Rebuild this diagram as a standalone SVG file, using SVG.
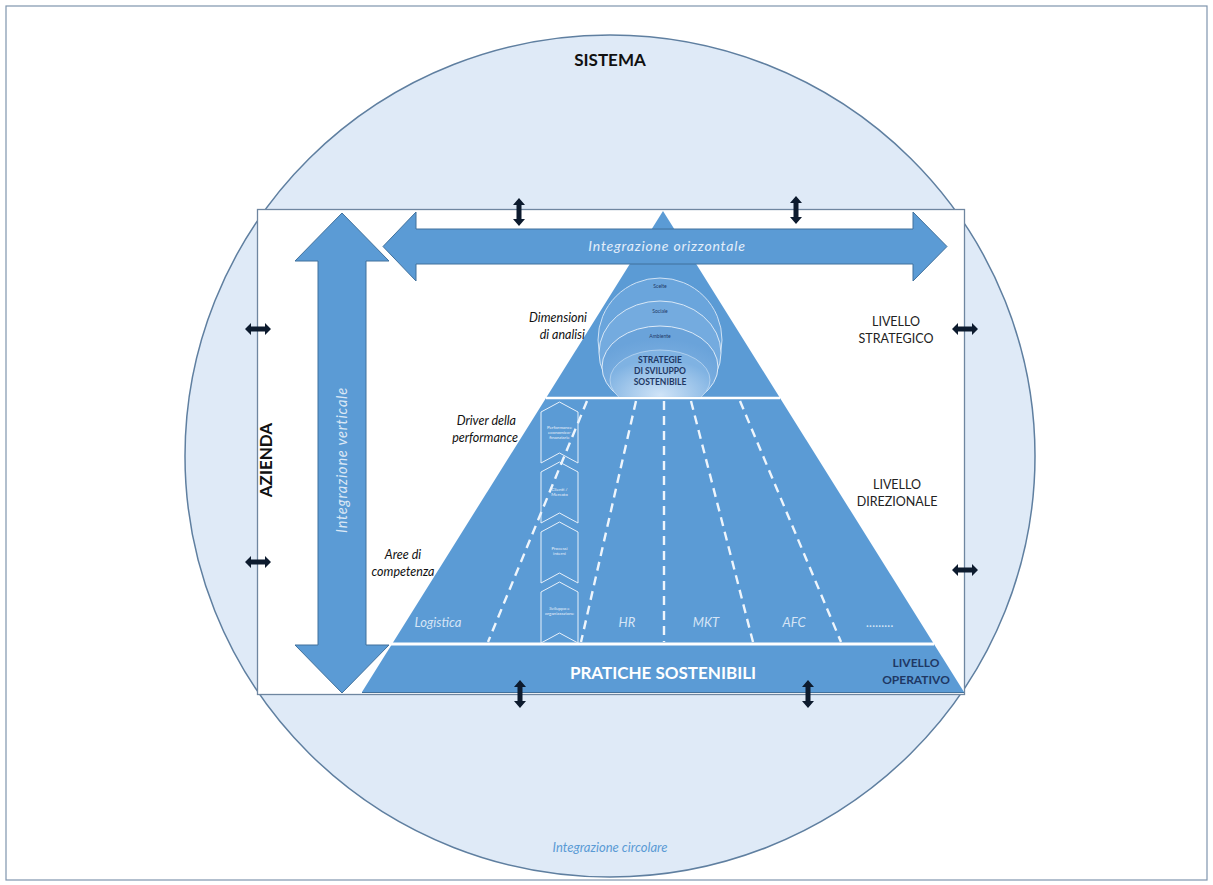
<svg xmlns="http://www.w3.org/2000/svg" width="1213" height="885" viewBox="0 0 1213 885">
<style>
.t{font-family:Lato,"Open Sans","Liberation Sans",sans-serif}
.b{font-weight:bold}
.i{font-style:italic}
.lab{font-size:12.5px;fill:#111}
.lev{font-size:12.5px;fill:#222;text-anchor:middle}
.area{font-size:13px;fill:#d6e5f6;font-style:italic;text-anchor:middle}
.chev{fill:none;stroke:#e8f1fb;stroke-width:1}
.ct{font-size:4.5px;fill:#e8f1fb;text-anchor:middle}
.dash{stroke:#eef5fc;stroke-width:2.4;stroke-dasharray:9,6;fill:none}
.big{fill:#5b9bd5;stroke:#41719c;stroke-width:1}
.sm{fill:#0d1b2e}
</style>
<defs>
<radialGradient id="g1" cx="50%" cy="85%" r="70%">
<stop offset="0" stop-color="#b9d6f2"/>
<stop offset="0.6" stop-color="#7aaee0"/>
<stop offset="1" stop-color="#6aa3da"/>
</radialGradient>
<radialGradient id="g2" cx="50%" cy="75%" r="60%">
<stop offset="0" stop-color="#cfe3f7"/>
<stop offset="1" stop-color="#7fb2e2"/>
</radialGradient>
<clipPath id="clipTop"><rect x="500" y="200" width="330" height="197"/></clipPath>
<g id="hArr"><path d="M-13,0 L-7,-6 L-7,-2.5 L7,-2.5 L7,-6 L13,0 L7,6 L7,2.5 L-7,2.5 L-7,6 Z"/></g>
<g id="vArr"><path d="M0,-14 L6,-7 L2.5,-7 L2.5,7 L6,7 L0,14 L-6,7 L-2.5,7 L-2.5,-7 L-6,-7 Z"/></g>
</defs>
<rect x="0" y="0" width="1213" height="885" fill="#ffffff"/>
<g id="frame"><rect x="6" y="6" width="1201" height="874" fill="#ffffff" stroke="#7f95ad" stroke-width="1.2"/></g>
<g id="sistema">
<ellipse cx="610" cy="456" rx="425" ry="421" fill="#dfeaf7" stroke="#5f7fa0" stroke-width="1.5"/>
<text x="610" y="66" class="t b" font-size="17" fill="#111" text-anchor="middle">SISTEMA</text>
<text x="610" y="852" class="t i" font-size="13" fill="#5b9bd5" text-anchor="middle">Integrazione circolare</text>
</g>
<g id="azienda">
<rect x="257.5" y="209.5" width="707" height="485" fill="#ffffff" stroke="#6f86a0" stroke-width="1.3"/>
<text transform="translate(272,460) rotate(-90)" class="t b" font-size="17" fill="#111" text-anchor="middle">AZIENDA</text>
</g>
<g id="piramide">
<polygon points="663,211 362,692 964,692" fill="#5b9bd5"/>
<line x1="362" y1="692.5" x2="964" y2="692.5" stroke="#41719c" stroke-width="1.2"/>
<line x1="546" y1="398" x2="780" y2="398" stroke="#ffffff" stroke-width="2.5"/>
<line x1="366" y1="644" x2="934" y2="644" stroke="#ffffff" stroke-width="3"/>
</g>
<g id="dimensioni">
<g clip-path="url(#clipTop)">
<ellipse cx="660" cy="340" rx="62" ry="62" fill="#6aa5dc" stroke="#cfe2f5" stroke-width="1"/>
<ellipse cx="660" cy="353" rx="61" ry="52" fill="#74abdf" stroke="#d8e8f7" stroke-width="1"/>
<ellipse cx="660" cy="367" rx="58" ry="41" fill="url(#g1)" stroke="#dceaf8" stroke-width="1"/>
<ellipse cx="660" cy="380" rx="50" ry="30" fill="url(#g2)" stroke="#e6f0fa" stroke-width="0.8" stroke-opacity="0.6"/>
</g>
<text x="660" y="288" class="t" font-size="5" fill="#1f3864" text-anchor="middle">Scelte</text>
<text x="660" y="313" class="t" font-size="5" fill="#1f3864" text-anchor="middle">Sociale</text>
<text x="660" y="338" class="t" font-size="5" fill="#1f3864" text-anchor="middle">Ambiente</text>
<text x="660" y="363" class="t b" font-size="8.5" fill="#1f3864" text-anchor="middle">STRATEGIE</text>
<text x="660" y="374" class="t b" font-size="8.5" fill="#1f3864" text-anchor="middle">DI SVILUPPO</text>
<text x="660" y="385" class="t b" font-size="8.5" fill="#1f3864" text-anchor="middle">SOSTENIBILE</text>
</g>
<g id="aree">
<line class="dash" x1="587" y1="401" x2="488" y2="642"/>
<line class="dash" x1="636" y1="401" x2="581" y2="642"/>
<line class="dash" x1="664" y1="401" x2="664" y2="642"/>
<line class="dash" x1="691" y1="401" x2="753" y2="642"/>
<line class="dash" x1="740" y1="401" x2="841" y2="642"/>
<text x="438" y="627" class="t area">Logistica</text>
<text x="627" y="627" class="t area">HR</text>
<text x="706" y="627" class="t area">MKT</text>
<text x="794" y="627" class="t area">AFC</text>
<text x="880" y="627" class="t area">.........</text>
</g>
<g id="driver">
<polygon class="chev" points="541,412 559.5,402 578,412 578,463 559.5,453 541,463"/>
<polygon class="chev" points="541,472 559.5,462 578,472 578,523 559.5,513 541,523"/>
<polygon class="chev" points="541,532 559.5,522 578,532 578,583 559.5,573 541,583"/>
<polygon class="chev" points="541,592 559.5,582 578,592 578,643 559.5,633 541,643"/>
<text x="559.5" y="429" class="t ct">Performance</text>
<text x="559.5" y="434" class="t ct">economico-</text>
<text x="559.5" y="439" class="t ct">finanziarie</text>
<text x="559.5" y="491" class="t ct">Clienti /</text>
<text x="559.5" y="496" class="t ct">Mercato</text>
<text x="559.5" y="550" class="t ct">Processi</text>
<text x="559.5" y="555" class="t ct">interni</text>
<text x="559.5" y="610" class="t ct">Sviluppo e</text>
<text x="559.5" y="615" class="t ct">organizzazione</text>
</g>
<g id="pratiche">
<text x="663" y="679" class="t b" font-size="17" fill="#ffffff" text-anchor="middle">PRATICHE SOSTENIBILI</text>
<text x="916" y="667" class="t b" font-size="12" fill="#1f3864" text-anchor="middle">LIVELLO</text>
<text x="916" y="684" class="t b" font-size="12" fill="#1f3864" text-anchor="middle">OPERATIVO</text>
</g>
<g id="livelli">
<text x="896" y="326" class="t lev">LIVELLO</text>
<text x="896" y="343" class="t lev">STRATEGICO</text>
<text x="897" y="489" class="t lev">LIVELLO</text>
<text x="897" y="506" class="t lev">DIREZIONALE</text>
</g>
<g id="etichette">
<text x="587" y="322" class="t i lab" text-anchor="end">Dimensioni</text>
<text x="585" y="339" class="t i lab" text-anchor="end">di analisi</text>
<text x="516" y="425" class="t i lab" text-anchor="end">Driver della</text>
<text x="518" y="442" class="t i lab" text-anchor="end">performance</text>
<text x="403" y="559" class="t i lab" text-anchor="middle">Aree di</text>
<text x="403" y="576" class="t i lab" text-anchor="middle">competenza</text>
</g>
<g id="integrazione-orizzontale">
<path class="big" d="M383,246.5 L416,212 L416,229 L913,229 L913,212 L947,246.5 L913,281 L913,264 L416,264 L416,281 Z"/>
<text x="667" y="251" class="t i" font-size="14" fill="#e3eefa" text-anchor="middle" letter-spacing="0.8">Integrazione orizzontale</text>
</g>
<g id="integrazione-verticale">
<path class="big" d="M342,213 L389,261 L366,261 L366,645 L389,645 L342,693 L295,645 L318,645 L318,261 L295,261 Z"/>
<text transform="translate(347,460) rotate(-90)" class="t i" font-size="14.5" fill="#dbe8f6" text-anchor="middle" letter-spacing="0.8">Integrazione verticale</text>
</g>
<g id="connettori" class="sm">
<use href="#hArr" x="258" y="329"/>
<use href="#hArr" x="258" y="562"/>
<use href="#hArr" x="965" y="329"/>
<use href="#hArr" x="965" y="570"/>
<use href="#vArr" x="519" y="212"/>
<use href="#vArr" x="796" y="210"/>
<use href="#vArr" x="520" y="694"/>
<use href="#vArr" x="808" y="694"/>
</g>
</svg>
